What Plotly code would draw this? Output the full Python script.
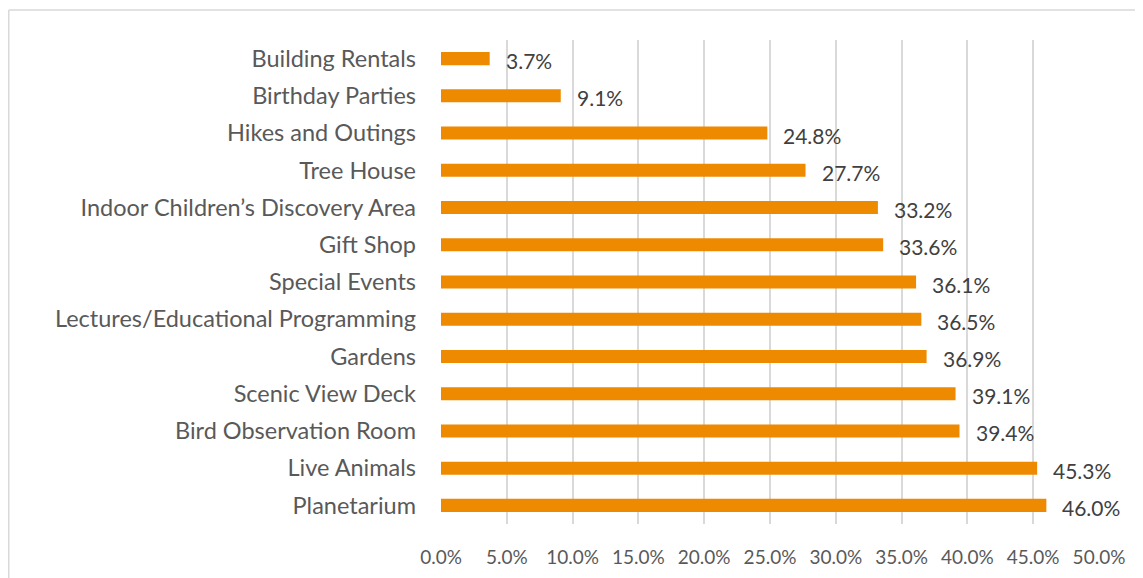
import plotly.graph_objects as go

categories = ["Building Rentals", "Birthday Parties", "Hikes and Outings", "Tree House",
              "Indoor Children’s Discovery Area", "Gift Shop", "Special Events",
              "Lectures/Educational Programming", "Gardens", "Scenic View Deck",
              "Bird Observation Room", "Live Animals", "Planetarium"]
values = [3.7, 9.1, 24.8, 27.7, 33.2, 33.6, 36.1, 36.5, 36.9, 39.1, 39.4, 45.3, 46.0]
tick_vals = [0, 5, 10, 15, 20, 25, 30, 35, 40, 45, 50]
tick_text = [f"{v:.1f}%" for v in tick_vals]

FONT = "Lato, Open Sans, sans-serif"
GRAY = "#595959"

fig = go.Figure(go.Bar(
    x=values, y=categories, orientation="h",
    marker=dict(color="#EE8A00", line=dict(width=0)),
    width=0.35,
))

for c, v in zip(categories, values):
    fig.add_annotation(x=v, y=c, text=f"{v:.1f}%", showarrow=False,
                       xanchor="left", yanchor="middle", xshift=14, yshift=-2,
                       font=dict(family=FONT, size=21, color="#404040"))

fig.update_layout(
    width=1143, height=578,
    margin=dict(l=433, r=52, t=32, b=62),
    plot_bgcolor="white", paper_bgcolor="white",
    showlegend=False,
    font=dict(family=FONT, color=GRAY),
    xaxis=dict(range=[0, 50], tickvals=tick_vals, ticktext=tick_text,
               showgrid=True, gridcolor="#D9D9D9", gridwidth=1.5,
               zeroline=False, showline=False, ticks="",
               ticklabelstandoff=20,
               tickfont=dict(family=FONT, size=19, color=GRAY), fixedrange=True),
    yaxis=dict(categoryorder="array", categoryarray=categories[::-1],
               autorange=True, showgrid=False, zeroline=False, showline=False,
               ticks="", ticklabelstandoff=24,
               tickfont=dict(family=FONT, size=23.5, color=GRAY), fixedrange=True),
)

x_left = (8.75 - 441) / 658
y_top = 1 + 30 / 484
fig.add_shape(type="line", xref="paper", yref="paper",
              x0=x_left, x1=x_left, y0=y_top, y1=-0.2,
              line=dict(color="#D9D9D9", width=1.5), layer="below")
fig.add_shape(type="line", xref="paper", yref="paper",
              x0=x_left, x1=1.2, y0=y_top, y1=y_top,
              line=dict(color="#D9D9D9", width=1.5), layer="below")

fig.write_html("out.html")
